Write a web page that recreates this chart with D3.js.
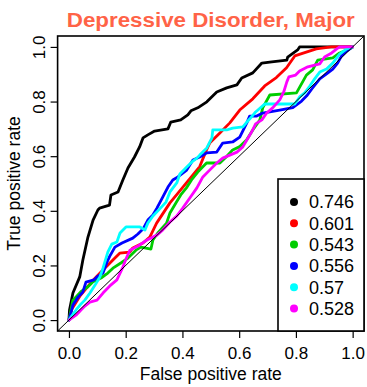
<!DOCTYPE html>
<html>
<head>
<meta charset="utf-8">
<script src="https://cdn.jsdelivr.net/npm/d3@7"></script>
<style>
  body { margin: 0; background: #fff; }
  text { font-family: "Liberation Sans", Arial, Helvetica, sans-serif; }
</style>
</head>
<body>
<div id="chart"></div>
<script>
// ROC curves, one per model as [fpr, tpr]
const black = [[0,0],[0.002,0.037],[0.014,0.099],[0.038,0.158],[0.049,0.22],[0.067,0.304],[0.085,0.366],[0.102,0.403],[0.108,0.41],[0.143,0.421],[0.148,0.458],[0.173,0.469],[0.19,0.513],[0.208,0.557],[0.231,0.597],[0.249,0.634],[0.261,0.667],[0.278,0.678],[0.302,0.692],[0.349,0.70],[0.359,0.725],[0.394,0.733],[0.419,0.751],[0.43,0.766],[0.454,0.777],[0.486,0.799],[0.521,0.835],[0.556,0.85],[0.592,0.861],[0.609,0.886],[0.648,0.905],[0.68,0.941],[0.715,0.945],[0.768,0.952],[0.771,0.963],[0.806,0.989],[0.813,1],[1,1]];
const red = [[0,0],[0.01,0.04],[0.04,0.09],[0.08,0.14],[0.113,0.176],[0.155,0.22],[0.179,0.245],[0.214,0.249],[0.225,0.264],[0.261,0.282],[0.285,0.304],[0.309,0.355],[0.356,0.429],[0.414,0.502],[0.461,0.562],[0.485,0.623],[0.496,0.648],[0.532,0.685],[0.567,0.722],[0.602,0.769],[0.648,0.81],[0.69,0.857],[0.731,0.888],[0.767,0.924],[0.796,0.967],[0.831,0.979],[0.872,0.993],[0.925,1],[1,1]];
const green = [[0,0],[0.014,0.073],[0.025,0.085],[0.042,0.104],[0.067,0.122],[0.085,0.14],[0.113,0.154],[0.137,0.172],[0.155,0.19],[0.183,0.209],[0.208,0.227],[0.236,0.256],[0.254,0.267],[0.289,0.26],[0.296,0.293],[0.313,0.319],[0.344,0.355],[0.356,0.392],[0.379,0.432],[0.394,0.458],[0.414,0.484],[0.432,0.513],[0.454,0.542],[0.485,0.575],[0.532,0.575],[0.555,0.598],[0.577,0.623],[0.602,0.635],[0.626,0.659],[0.648,0.696],[0.673,0.733],[0.683,0.777],[0.708,0.824],[0.802,0.832],[0.837,0.897],[0.859,0.916],[0.877,0.952],[0.93,0.96],[0.954,0.978],[0.982,0.989],[1,1]];
const blue = [[0,0],[0.007,0.026],[0.014,0.055],[0.032,0.084],[0.049,0.103],[0.06,0.139],[0.088,0.147],[0.102,0.161],[0.12,0.172],[0.134,0.212],[0.144,0.234],[0.162,0.267],[0.187,0.282],[0.225,0.3],[0.243,0.315],[0.261,0.333],[0.278,0.366],[0.296,0.385],[0.31,0.41],[0.331,0.451],[0.349,0.487],[0.366,0.513],[0.384,0.524],[0.415,0.549],[0.437,0.586],[0.461,0.597],[0.486,0.612],[0.521,0.615],[0.542,0.648],[0.577,0.652],[0.602,0.67],[0.627,0.722],[0.637,0.747],[0.662,0.747],[0.683,0.758],[0.743,0.769],[0.789,0.778],[0.82,0.802],[0.838,0.821],[0.856,0.846],[0.884,0.883],[0.908,0.901],[0.93,0.919],[0.947,0.941],[0.961,0.967],[0.979,0.985],[1,1]];
const cyan = [[0,0],[0.007,0.011],[0.025,0.037],[0.039,0.055],[0.056,0.073],[0.074,0.099],[0.092,0.128],[0.109,0.158],[0.12,0.19],[0.137,0.249],[0.151,0.278],[0.169,0.286],[0.18,0.319],[0.201,0.341],[0.25,0.341],[0.268,0.33],[0.278,0.355],[0.296,0.381],[0.32,0.407],[0.342,0.432],[0.356,0.469],[0.38,0.502],[0.391,0.535],[0.419,0.564],[0.437,0.582],[0.451,0.593],[0.461,0.604],[0.486,0.63],[0.504,0.667],[0.507,0.696],[0.556,0.696],[0.577,0.703],[0.613,0.707],[0.627,0.725],[0.637,0.736],[0.658,0.762],[0.69,0.791],[0.796,0.791],[0.813,0.817],[0.831,0.832],[0.849,0.857],[0.866,0.883],[0.884,0.908],[0.908,0.919],[0.93,0.941],[0.954,0.974],[0.979,0.993],[1,1]];
const magenta = [[0,0],[0.025,0.018],[0.039,0.033],[0.056,0.051],[0.074,0.066],[0.099,0.073],[0.12,0.099],[0.144,0.125],[0.169,0.147],[0.19,0.194],[0.204,0.231],[0.215,0.256],[0.243,0.271],[0.275,0.293],[0.31,0.311],[0.331,0.33],[0.356,0.359],[0.38,0.381],[0.401,0.41],[0.426,0.447],[0.451,0.484],[0.472,0.524],[0.496,0.549],[0.521,0.575],[0.542,0.593],[0.567,0.604],[0.592,0.615],[0.613,0.634],[0.627,0.659],[0.644,0.689],[0.658,0.718],[0.68,0.733],[0.697,0.758],[0.718,0.777],[0.743,0.806],[0.757,0.835],[0.768,0.872],[0.775,0.89],[0.799,0.897],[0.813,0.912],[0.842,0.927],[0.884,0.938],[0.901,0.963],[0.926,0.978],[0.944,0.993],[0.954,1],[1,1]];

const curves = [black, red, green, blue, cyan, magenta];
const colors = ["#000000", "#ff0000", "#00cd00", "#0000ff", "#00ffff", "#ff00ff"];
const aucLabels = ["0.746", "0.601", "0.543", "0.556", "0.57", "0.528"];
const ticks = [0, 0.2, 0.4, 0.6, 0.8, 1.0];
const title = "Depressive Disorder, Major";

const width = 367;
const height = 387;

const x = d3.scaleLinear().domain([-0.04, 1.04]).range([57.6, 364]);
const y = d3.scaleLinear().domain([-0.04, 1.04]).range([331, 36]);

const svg = d3.select('#chart')
    .append('svg')
    .attr('width', width)
    .attr('height', height);

// title
svg.append('text')
    .attr('x', (x.range()[0] + x.range()[1]) / 2)
    .attr('y', 27)
    .attr('text-anchor', 'middle')
    .attr('font-size', 20)
    .attr('font-weight', 'bold')
    .attr('fill', 'tomato')
    .attr('textLength', 288)
    .attr('lengthAdjust', 'spacingAndGlyphs')
    .text(title);

// curves
const line = d3.line()
    .x(function (d) { return x(d[0]); })
    .y(function (d) { return y(d[1]); });

svg.append('g')
    .selectAll('path')
    .data(curves)
    .enter()
    .append('path')
    .attr('d', line)
    .attr('fill', 'none')
    .attr('stroke', function (d, i) { return colors[i]; })
    .attr('stroke-width', 2.8)
    .attr('stroke-linejoin', 'round')
    .attr('stroke-linecap', 'round');

// diagonal, corner to corner of the box
svg.append('line')
    .attr('x1', x(-0.04)).attr('y1', y(-0.04))
    .attr('x2', x(1.04)).attr('y2', y(1.04))
    .attr('stroke', '#000')
    .attr('stroke-width', 1);

// axes
const xAxis = d3.axisBottom(x).tickValues(ticks).tickFormat(d3.format('.1f')).tickSize(7).tickPadding(9);
const yAxis = d3.axisLeft(y).tickValues(ticks).tickFormat(d3.format('.1f')).tickSize(7);

const gx = svg.append('g')
    .attr('transform', 'translate(0,' + y.range()[0] + ')')
    .call(xAxis);
gx.select('.domain').remove();
gx.selectAll('line').attr('stroke', '#000').attr('stroke-width', 1.2);
gx.selectAll('text')
    .attr('font-size', 17)
    .attr('font-family', '"Liberation Sans", Arial, sans-serif')
    .attr('fill', '#000');

const gy = svg.append('g')
    .attr('transform', 'translate(' + x.range()[0] + ',0)')
    .call(yAxis);
gy.select('.domain').remove();
gy.selectAll('line').attr('stroke', '#000').attr('stroke-width', 1.2);
gy.selectAll('text')
    .attr('font-size', 17)
    .attr('font-family', '"Liberation Sans", Arial, sans-serif')
    .attr('fill', '#000')
    .attr('x', null)
    .attr('dy', null)
    .attr('text-anchor', 'middle')
    .attr('transform', 'translate(-13,0) rotate(-90)');

// axis titles
svg.append('text')
    .attr('x', (x.range()[0] + x.range()[1]) / 2)
    .attr('y', 380)
    .attr('text-anchor', 'middle')
    .attr('font-size', 17.5)
    .text('False positive rate');

svg.append('text')
    .attr('transform', 'translate(20,' + (y.range()[0] + y.range()[1]) / 2 + ') rotate(-90)')
    .attr('text-anchor', 'middle')
    .attr('font-size', 17.5)
    .text('True positive rate');

// plot box
svg.append('rect')
    .attr('x', x.range()[0])
    .attr('y', y.range()[1])
    .attr('width', x.range()[1] - x.range()[0])
    .attr('height', y.range()[0] - y.range()[1])
    .attr('fill', 'none')
    .attr('stroke', '#000')
    .attr('stroke-width', 1.6);

// legend
const legendLeft = 278;
const legendTop = 179;
const rowHeight = 21.3;

const legendGroup = svg.append('g').attr('class', 'legend');
legendGroup.append('rect')
    .attr('x', legendLeft)
    .attr('y', legendTop)
    .attr('width', x.range()[1] - legendLeft)
    .attr('height', y.range()[0] - legendTop)
    .attr('fill', '#fff')
    .attr('stroke', '#000')
    .attr('stroke-width', 1.6);

const legend = legendGroup.selectAll('g.item')
    .data(aucLabels)
    .enter()
    .append('g')
    .attr('class', 'item')
    .attr('transform', function (d, i) { return 'translate(0,' + (legendTop + 23 + i * rowHeight) + ')'; });

legend.append('circle')
    .attr('cx', legendLeft + 16)
    .attr('cy', 0)
    .attr('r', 4)
    .attr('fill', function (d, i) { return colors[i]; });

legend.append('text')
    .attr('x', legendLeft + 31)
    .attr('y', 0)
    .attr('dy', '0.36em')
    .attr('font-size', 18)
    .text(function (d) { return d; });
</script>
</body>
</html>
